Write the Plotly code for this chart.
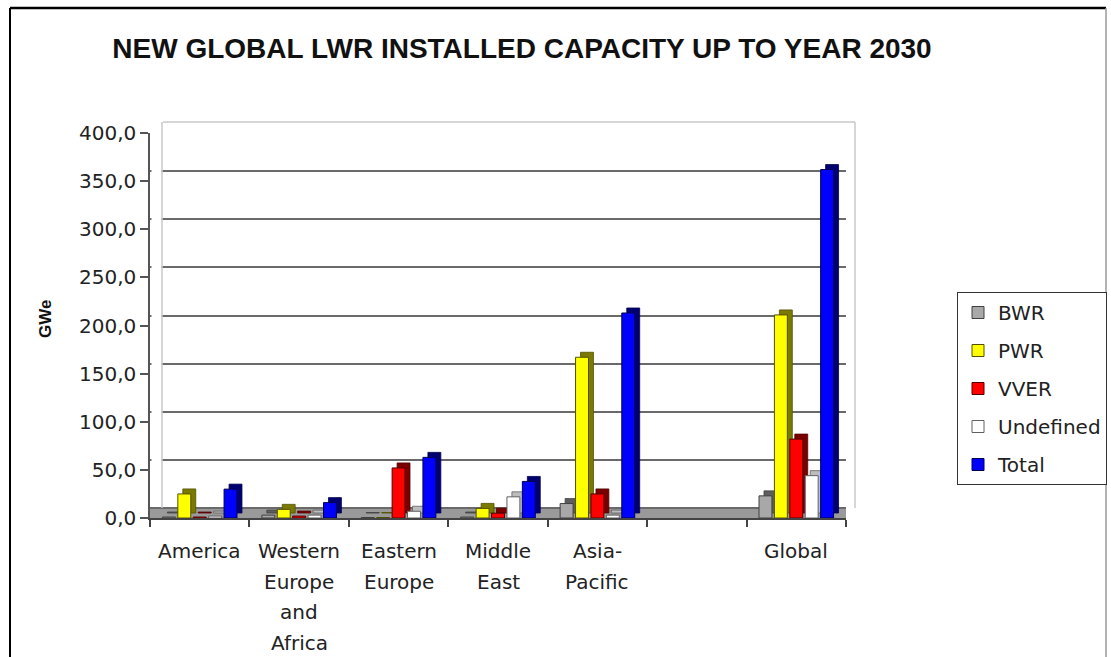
import plotly.graph_objects as go

# ---- data ----
categories = ["America", "Western Europe and Africa", "Eastern Europe",
              "Middle East", "Asia-Pacific", " ", "Global"]
label_lines = [["America"], ["Western", "Europe", "and", "Africa"],
               ["Eastern", "Europe"], ["Middle", "East"], ["Asia-", "Pacific"],
               [], ["Global"]]
series_names = ["BWR", "PWR", "VVER", "Undefined", "Total"]
bwr = [1, 3, 0.5, 1, 15, None, 23]
pwr = [25, 9, 0.5, 10, 167, None, 211]
vver = [1, 2, 52, 5, 25, None, 82]
undefined = [2, 3, 7, 22, 3, None, 44]
total = [30, 16, 63, 38, 213, None, 362]
series_values = [bwr, pwr, vver, undefined, total]
y_ticks = [0, 50, 100, 150, 200, 250, 300, 350, 400]
y_ticktext = ["0,0", "50,0", "100,0", "150,0", "200,0", "250,0", "300,0", "350,0", "400,0"]

front_colors = ["#a8a8a8", "#ffff00", "#ff0000", "#ffffff", "#0000ff"]
side_colors = ["#5e5e5e", "#7a7a00", "#7a0000", "#bdbdbd", "#00006e"]
edge_colors = ["#404040", "#505000", "#500000", "#606060", "#000050"]

# ---- geometry (pixels) ----
W, H = 1111, 657
L, R, T, B = 150, 265, 133, 139
PW = W - L - R
PH = H - T - B
Y0PX = H - B  # pixel row of y=0
YMAX = 400
px_per_unit = PH / YMAX
depth_units = 5.0 / px_per_unit   # 3D depth (vertical), data units
back_shift = 10.0 / px_per_unit   # back wall shift


def px_x(px):
    return (px - L) / PW


def px_y(py):
    return (Y0PX - py) / PH


fig = go.Figure()

stride = 0.155
front_w = 0.13
dx = 0.05
start = -0.375
for k, (name, vals) in enumerate(zip(series_names, series_values)):
    off = start + k * stride
    # side/top face (depth)
    fig.add_trace(go.Bar(
        x=categories, y=vals, base=depth_units, name=name,
        offset=off + dx, width=front_w,
        marker=dict(color=side_colors[k], line=dict(color=edge_colors[k], width=0.8)),
        legendgroup=name, showlegend=False, hoverinfo="skip"))
    # front face
    fig.add_trace(go.Bar(
        x=categories, y=vals, name=name,
        offset=off, width=front_w,
        marker=dict(color=front_colors[k], line=dict(color=edge_colors[k], width=1)),
        legendgroup=name, showlegend=True))

annotations = []
for cat, lines in zip(categories, label_lines):
    for j, line in enumerate(lines):
        annotations.append(dict(
            x=cat, xref="x", y=px_y(551 + 30.7 * j), yref="paper",
            text=line, showarrow=False, xanchor="center", yanchor="middle",
            font=dict(family="DejaVu Sans", size=20, color="#222222")))

annotations.append(dict(
    x=px_x(45), y=px_y(319), xref="paper", yref="paper",
    text="<b>GWe</b>", textangle=-90, showarrow=False,
    xanchor="center", yanchor="middle",
    font=dict(family="Liberation Sans", size=17, color="#111111")))

shapes = [
    # floor
    dict(type="rect", xref="paper", yref="y", x0=0, x1=1.0, y0=0, y1=back_shift,
         fillcolor="#9a9a9a", line=dict(width=0), layer="below"),
    # left wall (hides grid in front of back wall)
    dict(type="rect", xref="paper", yref="y", x0=px_x(151.5), x1=px_x(161.5),
         y0=back_shift + 1.2, y1=YMAX,
         fillcolor="white", line=dict(width=0), layer="above"),
    # back wall edges
    dict(type="line", xref="paper", yref="paper", x0=px_x(163), x1=px_x(855),
         y0=px_y(122), y1=px_y(122), line=dict(color="#c8c8c8", width=1.5)),
    dict(type="line", xref="paper", yref="paper", x0=px_x(855), x1=px_x(855),
         y0=px_y(508), y1=px_y(122), line=dict(color="#c8c8c8", width=1.5)),
    dict(type="line", xref="paper", yref="paper", x0=px_x(162), x1=px_x(162),
         y0=px_y(508), y1=px_y(122), line=dict(color="#c8c8c8", width=1.5)),
    # outer frame
    dict(type="line", xref="paper", yref="paper", x0=px_x(10), x1=px_x(1106),
         y0=px_y(8), y1=px_y(8), line=dict(color="#000000", width=2.5)),
    dict(type="line", xref="paper", yref="paper", x0=px_x(10), x1=px_x(10),
         y0=px_y(8), y1=px_y(680), line=dict(color="#000000", width=2)),
    dict(type="line", xref="paper", yref="paper", x0=px_x(1106), x1=px_x(1106),
         y0=px_y(8), y1=px_y(680), line=dict(color="#9a9a9a", width=1.5)),
]

fig.update_layout(
    width=W, height=H,
    margin=dict(l=L, r=R, t=T, b=B, pad=0, autoexpand=False),
    paper_bgcolor="white", plot_bgcolor="white",
    barmode="overlay",
    title=dict(text="<b>NEW GLOBAL LWR INSTALLED CAPACITY UP TO YEAR 2030</b>",
               x=522 / W, xanchor="center", xref="container",
               y=1 - 48 / H, yanchor="middle", yref="container",
               font=dict(family="Liberation Sans", size=28, color="#111111")),
    xaxis=dict(type="category", categoryorder="array", categoryarray=categories,
               range=[-0.5, len(categories) - 0.5],
               showticklabels=False, showgrid=False, zeroline=False,
               showline=True, linecolor="#444444", linewidth=1.5,
               ticks="outside", tickson="boundaries", ticklen=7,
               tickcolor="#444444", tickwidth=1.5, automargin=False),
    yaxis=dict(range=[0, YMAX], tickvals=y_ticks, ticktext=y_ticktext,
               showgrid=False, zeroline=False, automargin=False,
               showline=True, linecolor="#555555", linewidth=1.5,
               ticks="outside", ticklen=8, tickcolor="#555555", tickwidth=1.5,
               tickfont=dict(family="DejaVu Sans", size=20, color="#222222")),
    yaxis2=dict(overlaying="y", range=[-back_shift, YMAX - back_shift],
                tickvals=y_ticks[:-1], showticklabels=False, automargin=False,
                showgrid=True, gridcolor="#6a6a6a", gridwidth=2,
                zeroline=False, showline=False, ticks=""),
    legend=dict(x=px_x(957), y=px_y(292), xanchor="left", yanchor="top",
                bordercolor="#333333", borderwidth=1, bgcolor="white",
                font=dict(family="DejaVu Sans", size=20, color="#222222"),
                traceorder="grouped", tracegroupgap=9, itemclick=False),
    annotations=annotations,
    shapes=shapes,
    showlegend=True,
)

# invisible helper so the shifted grid axis is rendered
fig.add_trace(go.Scatter(x=[categories[0]], y=[None], yaxis="y2",
                         showlegend=False, hoverinfo="skip"))

fig.write_html("out.html")
